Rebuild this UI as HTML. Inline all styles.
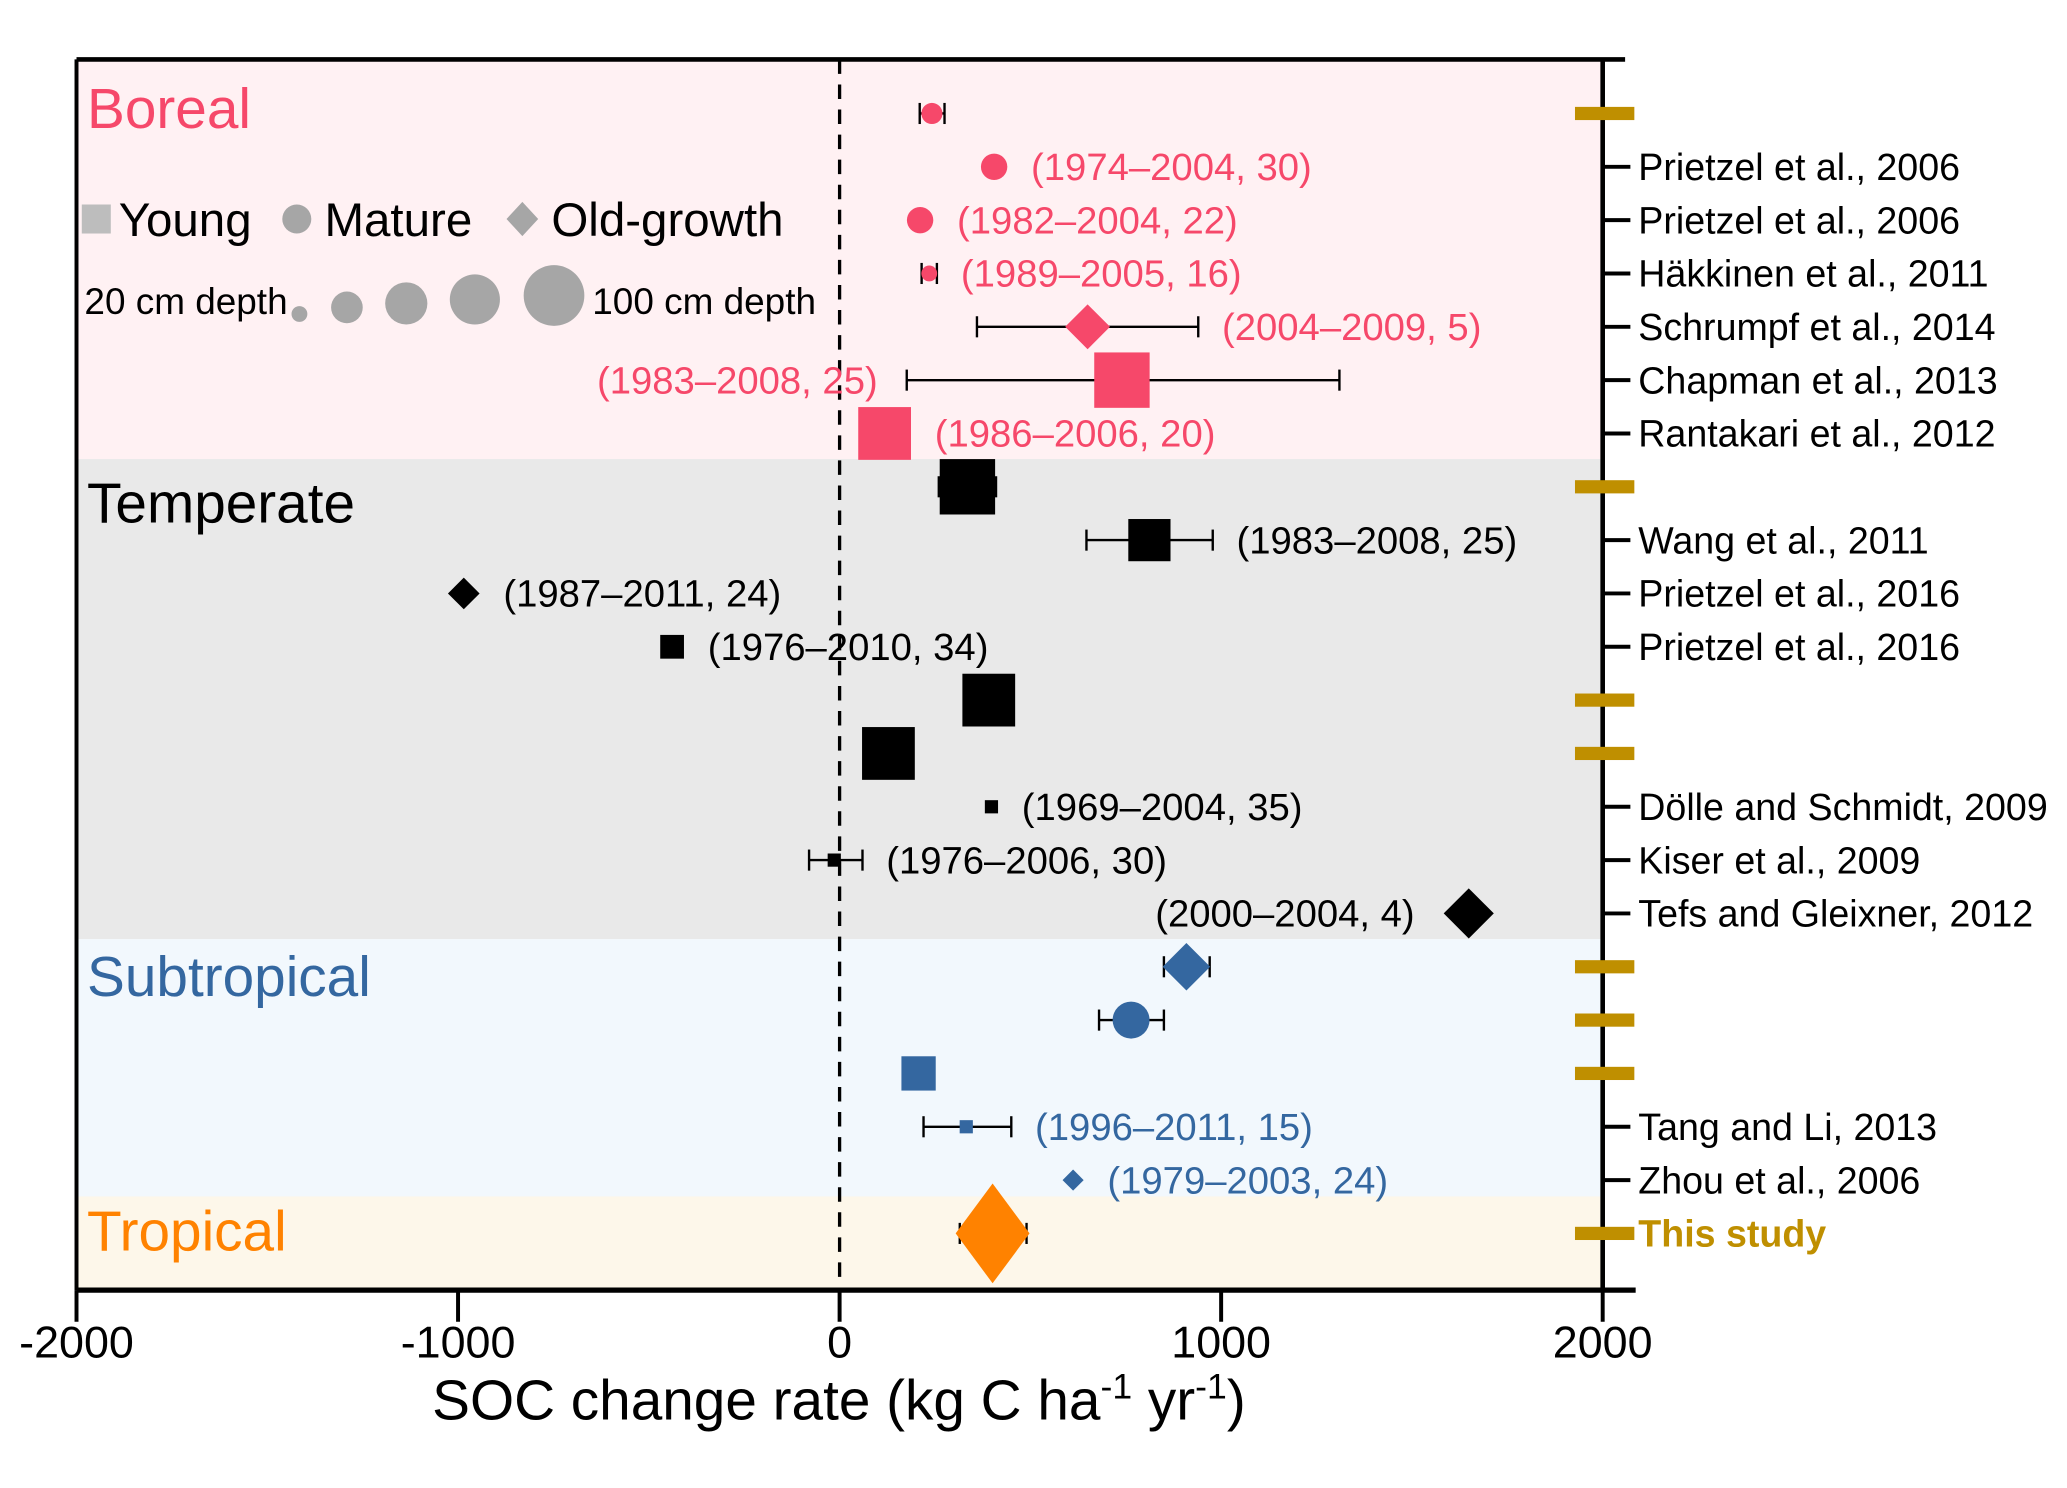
<!DOCTYPE html>
<html><head><meta charset="utf-8">
<style>html,body{margin:0;padding:0;background:#fff}svg{display:block}text{font-family:"Liberation Sans",Arial,sans-serif}</style>
</head><body>
<svg id="chart" xmlns="http://www.w3.org/2000/svg" width="2067" height="1488" viewBox="0 0 1567 1128">
<g id="bands"></g><g id="marks"></g><g id="axes"></g><g id="labels"></g>
</svg>
<script>
// ---- data ----
const rowValues = [242, 405, 211, 235, 650, 740, 118, 335, 812, -985, -439, 391, 128, 398, -14, 1649, 909, 764, 207, 332, 612, 401];
const errLow  = [210, null, null, 215, 360, 176, null, 260, 647, null, null, null, null, null, -80, null, 850, 680, null, 220, null, 315];
const errHigh = [275, null, null, 255, 940, 1310, null, 410, 978, null, null, null, null, null, 60, null, 970, 850, null, 450, null, 490];
const shapes = ['c','c','c','c','d','s','s','s','s','d','s','s','s','s','s','d','d','c','s','s','d','d'];
const sizes  = [8,10,10,6,17,21,20,21,16,12,9,20,20,5,5,19,18,14,13,5,8,28];
const regionOfRow = ['B','B','B','B','B','B','B','T','T','T','T','T','T','T','T','T','S','S','S','S','S','P'];
const annotations = ['','(1974–2004, 30)','(1982–2004, 22)','(1989–2005, 16)','(2004–2009, 5)','(1983–2008, 25)','(1986–2006, 20)','','(1983–2008, 25)','(1987–2011, 24)','(1976–2010, 34)','','','(1969–2004, 35)','(1976–2006, 30)','(2000–2004, 4)','','','','(1996–2011, 15)','(1979–2003, 24)',''];
const refLabels = ['','Prietzel et al., 2006','Prietzel et al., 2006','Häkkinen et al., 2011','Schrumpf et al., 2014','Chapman et al., 2013','Rantakari et al., 2012','','Wang et al., 2011','Prietzel et al., 2016','Prietzel et al., 2016','','','Dölle and Schmidt, 2009','Kiser et al., 2009','Tefs and Gleixner, 2012','','','','Tang and Li, 2013','Zhou et al., 2006','This study'];
const goldRows = [0,7,11,12,16,17,18,21];
const xTicks = [-2000,-1000,0,1000,2000];

// ---- layout ----
const L=58,R=1215,T=45,B=978;
const X=v=>L+(v+2000)/4000*(R-L);
const Y=i=>86+i*40.43;
const NS='http://www.w3.org/2000/svg';
const col={B:'#f6486a',T:'#000',S:'#3467a0',P:'#ff8200'};
const bg={B:'#fff1f3',T:'#e9e9e9',S:'#f2f8fd',P:'#fdf7ea'};
function mk(tag,attrs,parent,txt){const e=document.createElementNS(NS,tag);for(const k in attrs)e.setAttribute(k,attrs[k]);if(txt!==undefined)e.textContent=txt;parent.appendChild(e);return e;}
const gB=document.getElementById('bands'),gM=document.getElementById('marks'),gA=document.getElementById('axes'),gL=document.getElementById('labels');

// bands
const bandDefs=[['B',T,348,'Boreal',52],['T',348,712,'Temperate',48],['S',712,907,'Subtropical',43],['P',907,B,'Tropical',41]];
bandDefs.forEach(b=>{
  const r=mk('rect',{x:L,y:b[1],width:R-L,height:b[2]-b[1],fill:bg[b[0]]},gB);
  
  
  const t=mk('text',{x:66,y:b[1]+b[4],'font-size':43,fill:col[b[0]]},gL,b[3]);
  
  
});

// zero line
const z=mk('line',{x1:X(0),x2:X(0),y1:T,y2:B,stroke:'#000','stroke-width':2.5,'stroke-dasharray':'11,8'},gA);



// marks
rowValues.forEach((v,i)=>{
  const y=Y(i),x=X(v),c=col[regionOfRow[i]],s=sizes[i];
  let lo=x-s,hi=x+s;
  if(errLow[i]!==null){
    const g=mk('g',{stroke:'#000','stroke-width':1.8},gM);
    
    
    const a=X(errLow[i]),b=X(errHigh[i]);
    lo=Math.min(lo,a);hi=Math.max(hi,b);
    mk('line',{x1:a,x2:b,y1:y,y2:y},g);
    mk('line',{x1:a,x2:a,y1:y-8,y2:y+8},g);
    mk('line',{x1:b,x2:b,y1:y-8,y2:y+8},g);
  }
  let m;
  if(shapes[i]==='c') m=mk('circle',{cx:x,cy:y,r:s,fill:c},gM);
  else if(shapes[i]==='s') m=mk('rect',{x:x-s,y:y-s,width:2*s,height:2*s,fill:c},gM);
  else {const h=i===21?s*1.35:s; m=mk('polygon',{points:`${x},${y-h} ${x+s},${y} ${x},${y+h} ${x-s},${y}`,fill:c},gM);}
  
  
  if(annotations[i]){
    const right=(i===5||i===15);
    const t=mk('text',{x:right?lo-22:hi+18,y:y+10,'font-size':29,fill:c,'text-anchor':right?'end':'start'},gL,annotations[i]);
    
    
  }
});

// frame
mk('line',{x1:L,x2:1232,y1:T,y2:T,stroke:'#000','stroke-width':3.5},gA);
mk('line',{x1:L,x2:L,y1:T,y2:B,stroke:'#000','stroke-width':3},gA);
mk('line',{x1:R,x2:R,y1:T,y2:B,stroke:'#000','stroke-width':3.5},gA);
const xa=mk('line',{x1:L,x2:1240,y1:B,y2:B,stroke:'#000','stroke-width':4},gA);


xTicks.forEach(v=>{
  mk('line',{x1:X(v),x2:X(v),y1:B,y2:B+24,stroke:'#000','stroke-width':3},gA);
  const t=mk('text',{x:X(v),y:1029,'font-size':34,'text-anchor':'middle'},gL,String(v));
  
  
});
const xt=mk('text',{x:636,y:1076,'font-size':43,'text-anchor':'middle'},gL);


xt.innerHTML='SOC change rate (kg C ha<tspan dy="-16" font-size="27">-1</tspan><tspan dy="16"> yr</tspan><tspan dy="-16" font-size="27">-1</tspan><tspan dy="16">)</tspan>';

// right axis ticks & refs
rowValues.forEach((v,i)=>{
  const y=Y(i);
  if(goldRows.includes(i)){
    const g=mk('rect',{x:1194,y:y-5,width:45,height:10,fill:'#bf8f00'},gA);
    
    
  } else {
    mk('line',{x1:R,x2:1236,y1:y,y2:y,stroke:'#000','stroke-width':3},gA);
  }
  if(refLabels[i]){
    const study=i===21;
    const t=mk('text',{x:1242,y:y+10,'font-size':28.5,fill:study?'#bf8f00':'#000','font-weight':study?'bold':'normal'},gL,refLabels[i]);
    
    
  }
});

// legend
const lg=mk('g',{},gL);


mk('rect',{x:62,y:155,width:22,height:22,fill:'#bdbdbd'},lg);
mk('text',{x:90,y:179,'font-size':36},lg,'Young');
mk('circle',{cx:225,cy:166,r:11,fill:'#a6a6a6'},lg);
mk('text',{x:246,y:179,'font-size':36},lg,'Mature');
mk('polygon',{points:'396,153 408,166 396,179 384,166',fill:'#a6a6a6'},lg);
mk('text',{x:418,y:179,'font-size':36},lg,'Old-growth');
mk('text',{x:64,y:238,'font-size':28},lg,'20 cm depth');
[[227,238,6],[263,233,12],[308,230,16],[360,227,19],[420,224,23]].forEach(c=>mk('circle',{cx:c[0],cy:c[1],r:c[2],fill:'#a6a6a6'},lg));
mk('text',{x:449,y:238,'font-size':28},lg,'100 cm depth');
</script>
</body></html>
